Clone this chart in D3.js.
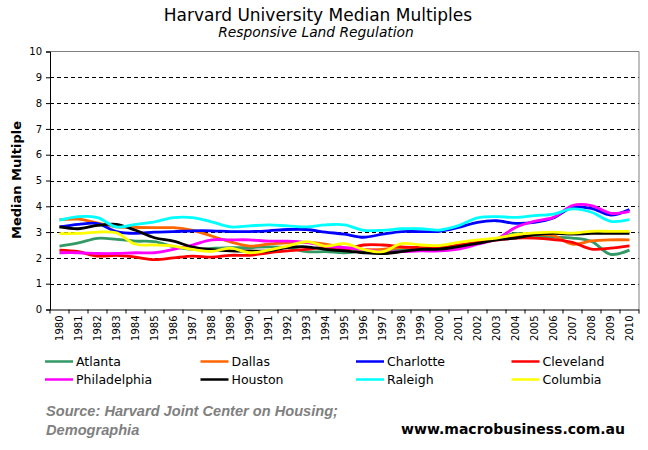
<!DOCTYPE html>
<html><head><meta charset="utf-8">
<script src="https://cdn.jsdelivr.net/npm/d3@7/dist/d3.min.js"></script>
<style>
body{margin:0;background:#fff;}
svg{display:block;}
</style></head>
<body><svg id="c" width="648" height="450"></svg>
<script>
const years = d3.range(1980, 2011).map(String);
const seriesNames = ["Atlanta","Dallas","Charlotte","Cleveland","Philadelphia","Houston","Raleigh","Columbia"];
const seriesColors = ["#339966","#FF6600","#0000FF","#FF0000","#FF00FF","#000000","#00FFFF","#FFFF00"];
const atlanta = [2.46,2.58,2.76,2.72,2.65,2.63,2.44,2.33,2.37,2.4,2.4,2.43,2.4,2.24,2.24,2.2,2.27,2.27,2.3,2.35,2.43,2.45,2.55,2.73,2.95,2.82,2.8,2.77,2.64,2.14,2.3];
const dallas = [3.48,3.5,3.35,3.2,3.18,3.17,3.17,3.07,2.85,2.62,2.46,2.53,2.58,2.6,2.53,2.4,2.33,2.33,2.4,2.4,2.4,2.47,2.6,2.73,2.82,2.9,2.86,2.53,2.66,2.7,2.7];
const charlotte = [3.2,3.3,3.33,3.02,2.95,3.0,3.02,3.05,3.05,3.02,3.02,3.05,3.1,3.1,3.0,2.92,2.8,2.92,3.02,3.02,3.03,3.18,3.38,3.44,3.34,3.38,3.55,3.96,3.92,3.66,3.87];
const cleveland = [2.3,2.24,2.07,2.1,2.03,1.93,2.0,2.07,2.03,2.1,2.1,2.2,2.27,2.33,2.4,2.33,2.5,2.5,2.43,2.4,2.38,2.5,2.6,2.69,2.77,2.77,2.71,2.6,2.34,2.38,2.47];
const philadelphia = [2.2,2.2,2.17,2.17,2.2,2.2,2.33,2.5,2.7,2.7,2.7,2.65,2.65,2.6,2.46,2.4,2.33,2.24,2.24,2.27,2.27,2.34,2.53,2.73,3.18,3.42,3.57,4.03,4.03,3.73,3.8];
const houston = [3.2,3.13,3.26,3.3,3.07,2.78,2.65,2.42,2.32,2.27,2.27,2.27,2.4,2.43,2.33,2.27,2.2,2.17,2.24,2.33,2.34,2.44,2.56,2.7,2.77,2.9,2.95,2.92,2.95,2.95,2.95];
const raleigh = [3.46,3.6,3.56,3.2,3.3,3.4,3.56,3.56,3.4,3.2,3.24,3.28,3.24,3.2,3.28,3.28,3.07,3.07,3.13,3.13,3.08,3.25,3.55,3.6,3.57,3.64,3.7,3.9,3.77,3.42,3.48];
const columbia = [2.94,2.95,3.0,2.97,2.53,2.5,2.46,2.33,2.25,2.38,2.2,2.3,2.46,2.63,2.46,2.55,2.33,2.24,2.55,2.5,2.48,2.6,2.7,2.77,2.9,2.97,3.0,2.96,3.03,3.03,3.03];
const seriesValues = [atlanta,dallas,charlotte,cleveland,philadelphia,houston,raleigh,columbia];
const yTicks = d3.range(0, 11);

const svg = d3.select("#c");
const L = 50, R = 639, T = 51.5, B = 309.5;
const x = d3.scaleBand().domain(years).range([L, R]).paddingInner(0).paddingOuter(0);
const y = d3.scaleLinear().domain([0, 10]).range([B, T]);
const cx = d => x(d) + x.bandwidth() / 2;

// titles
svg.append("text").attr("x", 318).attr("y", 21).attr("text-anchor", "middle")
  .style("font-family", "DejaVu Sans").style("font-size", "17px").text("Harvard University Median Multiples");
svg.append("text").attr("x", 316).attr("y", 37).attr("text-anchor", "middle")
  .style("font-family", "DejaVu Sans").style("font-style", "italic").style("font-size", "13.8px").text("Responsive Land Regulation");

// gridlines
svg.append("g").selectAll("line").data(yTicks.filter(v => v > 0 && v < 10)).join("line")
  .attr("x1", L).attr("x2", R).attr("y1", d => Math.round(y(d)) + 0.5).attr("y2", d => Math.round(y(d)) + 0.5)
  .attr("stroke", "#000").attr("stroke-width", 1).attr("stroke-dasharray", "4,3");

// frame top/right
svg.append("path").attr("d", `M${L},${T}H${R}V${B}`).attr("fill", "none").attr("stroke", "#808080").attr("stroke-width", 1);

// lines
const line = d3.line().x((d, i) => cx(years[i])).y(d => y(d)).curve(d3.curveCatmullRom.alpha(0.5));
svg.append("g").selectAll("path").data(seriesValues).join("path")
  .attr("d", d => line(d)).attr("fill", "none")
  .attr("stroke", (d, i) => seriesColors[i]).attr("stroke-width", 2.8).attr("stroke-linejoin", "round");

// y axis
const ya = svg.append("g").attr("transform", `translate(${L},0)`)
  .call(d3.axisLeft(y).tickValues(yTicks).tickSize(4).tickPadding(4).tickFormat(d3.format("d")));
ya.select(".domain").attr("stroke", "#000");
ya.selectAll("text").style("font-family", "DejaVu Sans").style("font-size", "10px").attr("fill", "#000");

// x axis
const xa = svg.append("g").attr("transform", `translate(0,${B})`)
  .call(d3.axisBottom(x).tickSize(0).tickPadding(0));
xa.select(".domain").attr("stroke", "#000").attr("d", `M${L},0.5H${R}`);
xa.selectAll("text").style("font-family", "DejaVu Sans").style("font-size", "10px").attr("fill", "#000")
  .attr("text-anchor", "end").attr("transform", "rotate(-90)").attr("x", -6).attr("y", 0).attr("dy", "0.35em");
xa.append("g").selectAll("line").data(years.concat(["end"])).join("line")
  .attr("x1", d => d === "end" ? R : x(d)).attr("x2", d => d === "end" ? R : x(d))
  .attr("y1", 0).attr("y2", 4).attr("stroke", "#000");

// y title
svg.append("text").attr("transform", "translate(21,180) rotate(-90)").attr("text-anchor", "middle")
  .style("font-family", "DejaVu Sans").style("font-weight", "bold").style("font-size", "13px").text("Median Multiple");

// legend
const lg = svg.append("g");
seriesNames.forEach((n, i) => {
  const col = i % 4, row = Math.floor(i / 4);
  const lx = 45 + col * 155.5, ly = 361.5 + row * 18;
  lg.append("line").attr("x1", lx).attr("x2", lx + 28).attr("y1", ly).attr("y2", ly)
    .attr("stroke", seriesColors[i]).attr("stroke-width", 2.5);
  lg.append("text").attr("x", lx + 31).attr("y", ly + 4.5)
    .style("font-family", "DejaVu Sans").style("font-size", "12.5px").text(n);
});

// source
svg.append("text").attr("x", 46).attr("y", 416).style("font-family", "Liberation Sans").style("font-weight", "bold")
  .style("font-style", "italic").style("font-size", "14.6px").attr("fill", "#808080").text("Source: Harvard Joint Center on Housing;");
svg.append("text").attr("x", 46).attr("y", 435).style("font-family", "Liberation Sans").style("font-weight", "bold")
  .style("font-style", "italic").style("font-size", "14.6px").attr("fill", "#808080").text("Demographia");
svg.append("text").attr("x", 625).attr("y", 434).attr("text-anchor", "end").style("font-family", "DejaVu Sans").style("font-weight", "bold")
  .style("font-size", "14px").attr("fill", "#000").text("www.macrobusiness.com.au");
</script></body></html>
